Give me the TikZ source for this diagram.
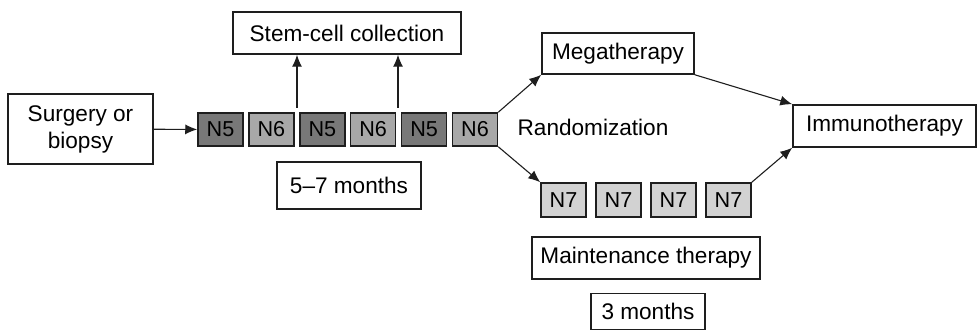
\documentclass[tikz,border=0pt]{standalone}
\usepackage{fontspec}
\setmainfont{Liberation Sans}
\usetikzlibrary{arrows.meta,positioning,calc}
\usepackage{xcolor}
\definecolor{Ink}{HTML}{1E1E1E}
\definecolor{DarkCyc}{HTML}{787878}
\definecolor{MidCyc}{HTML}{A8A8A8}
\definecolor{LightCyc}{HTML}{D2D2D2}
\tikzset{
 block/.style={draw=Ink, line width=0.75pt, fill=white, align=center, inner sep=0pt, font=\fontsize{11.3}{13.5}\selectfont},
 cycle/.style={block, minimum width=22.5pt, minimum height=16.5pt, font=\fontsize{10.8}{12}\selectfont},
 nfive/.style={cycle, fill=DarkCyc},
 nsix/.style={cycle, fill=MidCyc},
 nseven/.style={cycle, fill=LightCyc, minimum height=17pt},
 arrow/.style={-{Latex[length=6pt,width=5pt]}, line width=0.55pt, draw=Ink}
}

\begin{document}
\begin{tikzpicture}[x=0.5pt,y=-0.5pt]
\useasboundingbox (0,0) rectangle (978,331);

% induction
\node[block,minimum width=72.5pt,minimum height=35pt] (surgery) at (80.5,129) {Surgery or\\biopsy};
\foreach \i/\kind/\lab in {1/nfive/N5,2/nsix/N6,3/nfive/N5,4/nsix/N6,5/nfive/N5,6/nsix/N6}
  \node[\kind] (n\i) at ({220.5+50.9*(\i-1)},129.5) {\lab};
\node[block,minimum width=114pt,minimum height=21pt] (stem) at (347,33) {Stem-cell collection};
\node[block,minimum width=72pt,minimum height=23.5pt] (induct) at (349,185.5) {5--7 months};

\draw[arrow] (surgery) -- (n1);
\coordinate (up1) at (297,108);
\coordinate (up2) at (398,108);
\draw[arrow] (up1) -- (stem.south -| up1);
\draw[arrow] (up2) -- (stem.south -| up2);

% randomization
\node[font=\fontsize{11.3}{13.5}\selectfont] (rand) at (593,127) {Randomization};
\node[block,minimum width=76pt,minimum height=20.5pt] (mega) at (618,53.5) {Megatherapy};
\node[block,minimum width=91.5pt,minimum height=21pt] (immuno) at (884.5,126) {Immunotherapy};
\foreach \i in {1,...,4}
  \node[nseven] (m\i) at ({563.5+55*(\i-1)},200) {N7};
\node[block,minimum width=114pt,minimum height=21pt] (maint) at (646,258) {Maintenance therapy};
\node[block,minimum width=57pt,minimum height=18pt] (three) at (648,311.5) {3 months};

\draw[arrow] (n6.north east) -- (mega.south west);
\draw[arrow] (n6.south east) -- (m1.north west);
\draw[arrow] (mega.south east) -- (immuno.north west);
\draw[arrow] (m4.north east) -- (immuno.south west);
\end{tikzpicture}
\end{document}
